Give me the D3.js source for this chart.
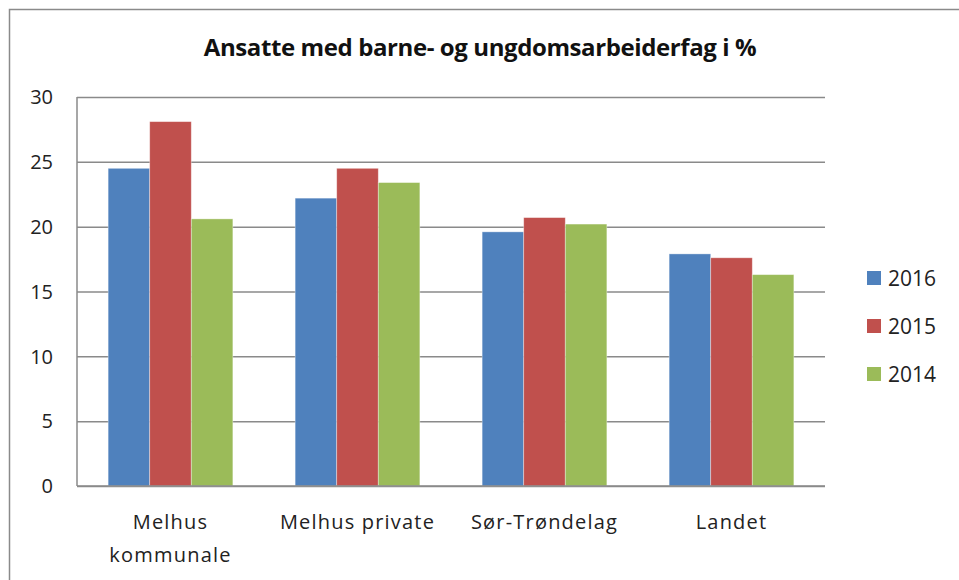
<!DOCTYPE html>
<html>
<head>
<meta charset="utf-8">
<script src="https://cdn.jsdelivr.net/npm/d3@7"></script>
<style>
  body { margin: 0; background: #fff; }
  svg text { font-family: "Open Sans", "Noto Sans", sans-serif; fill: #222; }
</style>
</head>
<body>
<div id="chart"></div>
<script>
var categories = ["Melhus kommunale", "Melhus private", "Sør-Trøndelag", "Landet"];
var years = ["2016", "2015", "2014"];
var values2016 = [24.5, 22.2, 19.6, 17.9];
var values2015 = [28.1, 24.5, 20.7, 17.6];
var values2014 = [20.6, 23.4, 20.2, 16.3];
var yTicks = [0, 5, 10, 15, 20, 25, 30];
var colors = ["#4f81bd", "#c0504d", "#9bbb59"];

var series = [values2016, values2015, values2014];

var W = 959, H = 580;
var margin = { top: 97, right: 134, bottom: 94, left: 77 },
    width = W - margin.left - margin.right,
    height = H - margin.top - margin.bottom;

var svg = d3.select("#chart")
    .append("svg")
    .attr("width", W)
    .attr("height", H);

// outer chart border (runs off the right and bottom edges)
svg.append("rect")
    .attr("x", 9.5)
    .attr("y", 9.5)
    .attr("width", W + 20)
    .attr("height", H + 20)
    .style("fill", "none")
    .style("stroke", "#8a8a8a")
    .style("stroke-width", 1.5);

// Title
svg.append("text")
    .attr("x", 480)
    .attr("y", 56)
    .style("text-anchor", "middle")
    .style("font-size", "24px")
    .style("font-weight", "700")
    .style("letter-spacing", "-0.4px")
    .style("fill", "#111")
    .text("Ansatte med barne- og ungdomsarbeiderfag i %");

var g = svg.append("g")
    .attr("transform", "translate(" + margin.left + "," + margin.top + ")");

var x0 = d3.scaleBand()
    .domain(categories)
    .range([0, width])
    .paddingInner(0.333)
    .paddingOuter(0.1665);

var x1 = d3.scaleBand()
    .domain(years)
    .range([0, x0.bandwidth()]);

var y = d3.scaleLinear()
    .domain([0, 30])
    .range([height, 0]);

// gridlines
var yAxis = g.append("g")
    .call(d3.axisLeft(y).tickValues(yTicks).tickSize(-width).tickFormat(""));
yAxis.select(".domain").remove();
yAxis.selectAll("line")
    .style("stroke", "#8a8a8a")
    .style("stroke-width", 1.5);

// tick labels
g.append("g")
    .selectAll("text")
    .data(yTicks)
    .enter()
    .append("text")
    .attr("x", -24)
    .attr("y", function (d) { return y(d); })
    .attr("dy", "0.36em")
    .style("text-anchor", "end")
    .style("font-size", "20px")
    .text(function (d) { return d; });

// bars
var groups = g.append("g")
    .selectAll("g")
    .data(categories)
    .enter()
    .append("g")
    .attr("transform", function (d) { return "translate(" + x0(d) + ",0)"; });

groups.selectAll("rect")
    .data(function (d, i) {
        return years.map(function (yr, j) { return { year: yr, value: series[j][i], c: colors[j] }; });
    })
    .enter()
    .append("rect")
    .attr("x", function (d) { return x1(d.year); })
    .attr("y", function (d) { return y(d.value); })
    .attr("width", x1.bandwidth())
    .attr("height", function (d) { return height - y(d.value); })
    .style("fill", function (d) { return d.c; })
    .style("stroke", "rgba(255,255,255,0.45)")
    .style("stroke-width", 0.8);

// y axis line and x axis line
g.append("line")
    .attr("x1", 0).attr("x2", 0)
    .attr("y1", y(30)).attr("y2", y(0))
    .style("stroke", "#8a8a8a")
    .style("stroke-width", 1.5);
g.append("line")
    .attr("x1", 0).attr("x2", width)
    .attr("y1", y(0)).attr("y2", y(0))
    .style("stroke", "#8a8a8a")
    .style("stroke-width", 1.5);

// category labels (wrapped like the original)
var catLines = {
    "Melhus kommunale": ["Melhus", "kommunale"],
    "Melhus private": ["Melhus private"],
    "Sør-Trøndelag": ["Sør-Trøndelag"],
    "Landet": ["Landet"]
};
var catText = g.append("g")
    .selectAll("text")
    .data(categories)
    .enter()
    .append("text")
    .attr("x", function (d) { return x0(d) + x0.bandwidth() / 2; })
    .attr("y", height + 43)
    .style("text-anchor", "middle")
    .style("font-size", "20px")
    .style("letter-spacing", "1.2px");
catText.selectAll("tspan")
    .data(function (d) { return catLines[d]; })
    .enter()
    .append("tspan")
    .attr("x", function () { var p = this.parentNode; return p.getAttribute("x"); })
    .attr("dy", function (d, i) { return i === 0 ? 0 : 33; })
    .text(function (d) { return d; });

// legend
var legend = svg.append("g")
    .selectAll("g")
    .data(years)
    .enter()
    .append("g")
    .attr("transform", function (d, i) { return "translate(867," + (271 + i * 48) + ")"; });
legend.append("rect")
    .attr("width", 14)
    .attr("height", 14)
    .style("fill", function (d, i) { return colors[i]; });
legend.append("text")
    .attr("x", 21)
    .attr("y", 7)
    .attr("dy", "0.36em")
    .style("font-size", "21px")
    .text(function (d) { return d; });
</script>
</body>
</html>
